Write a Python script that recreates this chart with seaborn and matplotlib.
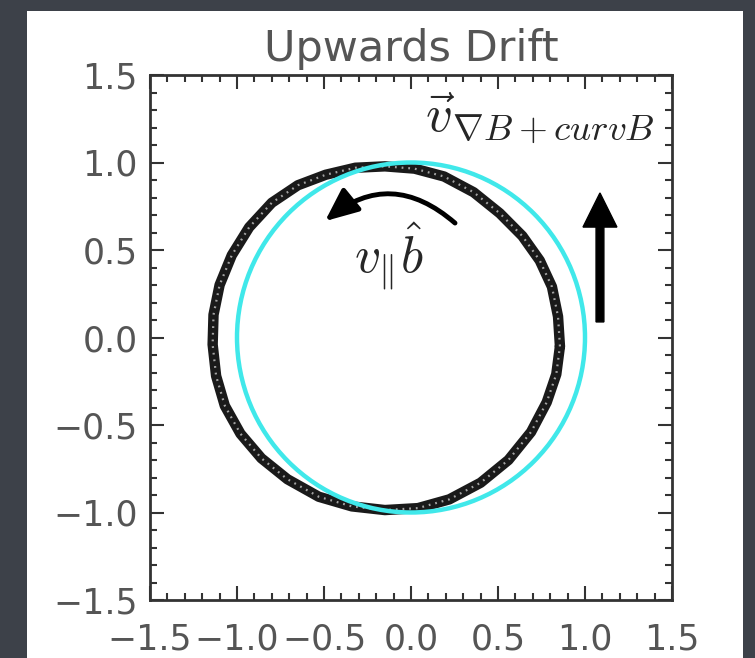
import matplotlib
matplotlib.use("Agg")
import matplotlib.pyplot as plt
from matplotlib.patches import Rectangle, Circle
import pandas as pd
import seaborn as sns

# orbit (counter-clockwise from the right side)
orbit_x = [0.856, 0.845, 0.81, 0.74, 0.64, 0.51, 0.36, 0.19, 0.02, -0.15, -0.32, -0.49,
           -0.65, -0.80, -0.93, -1.03, -1.10, -1.135, -1.14, -1.12, -1.07, -0.98, -0.86,
           -0.71, -0.53, -0.34, -0.15, 0.04, 0.22, 0.40, 0.56, 0.69, 0.78, 0.835, 0.856]
orbit_y = [-0.05, 0.12, 0.29, 0.44, 0.58, 0.71, 0.83, 0.92, 0.965, 0.978, 0.97, 0.93,
           0.87, 0.77, 0.63, 0.47, 0.30, 0.13, -0.04, -0.22, -0.39, -0.55, -0.69,
           -0.81, -0.91, -0.965, -0.986, -0.975, -0.925, -0.83, -0.70, -0.54, -0.37, -0.21, -0.05]

# guiding centre circle
circle_center = (0.0, 0.0)
circle_radius = 1.0

tick_values = [-1.5, -1.0, -0.5, 0.0, 0.5, 1.0, 1.5]
tick_labels = [f"{v:.1f}".replace("-", "\u2212") for v in tick_values]

title = "Upwards Drift"
drift_label = r"$\vec{v}_{\nabla B+curvB}$"
parallel_label = r"$v_{\Vert}\hat{b}$"

orbit = pd.DataFrame({"x": orbit_x, "y": orbit_y})

sns.set_style("ticks")
plt.rcParams["mathtext.fontset"] = "cm"
plt.rcParams["font.family"] = ["DejaVu Sans"]

fig = plt.figure(figsize=(7.55, 6.58), dpi=100)
fig.patch.set_facecolor("#3d4149")
fig.add_artist(Rectangle((27 / 755, 0), 716 / 755, 647 / 658, transform=fig.transFigure,
                         facecolor="white", edgecolor="none", zorder=0))
ax = fig.add_axes([150 / 755, 58 / 658, 522 / 755, 525 / 658])
ax.set_facecolor("white")

# particle orbit as a dark speckled band
sns.lineplot(data=orbit, x="x", y="y", sort=False, estimator=None, ax=ax,
             color="#1a1a1a", lw=7.5, solid_joinstyle="round", solid_capstyle="round")
ax.plot(orbit_x, orbit_y, color="white", lw=1.6, ls=(0, (0.8, 2.2)), alpha=0.6)

ax.add_patch(Circle(circle_center, circle_radius, fill=False, edgecolor="#40e8ea", lw=3.2, zorder=5))

# v_parallel arrow (curved) and drift arrow (straight)
ax.annotate("", xy=(-0.494, 0.665), xytext=(0.253, 0.654),
            arrowprops=dict(arrowstyle="-|>,head_length=0.8,head_width=0.35",
                            connectionstyle="arc3,rad=0.42", lw=3.5, color="black",
                            mutation_scale=25, shrinkA=0, shrinkB=0), zorder=6)
ax.arrow(1.086, 0.089, 0, 0.737, width=0.045, head_width=0.195, head_length=0.195,
         length_includes_head=True, color="black", zorder=6)

ax.text(0.08, 1.175, drift_label, fontsize=38, ha="left", va="baseline", zorder=7)
ax.text(-0.33, 0.369, parallel_label, fontsize=37, ha="left", va="baseline", zorder=7)

ax.set_xlim(-1.5, 1.5)
ax.set_ylim(-1.5, 1.5)
ax.set_xticks(tick_values)
ax.set_yticks(tick_values)
ax.set_xticklabels(tick_labels)
ax.set_yticklabels(tick_labels)
ax.set_xticks([v / 10 for v in range(-15, 16)], minor=True)
ax.set_yticks([v / 10 for v in range(-15, 16)], minor=True)
ax.set_xlabel("")
ax.set_ylabel("")
ax.tick_params(which="both", direction="in", top=True, right=True, color="#333333", width=1.5)
ax.tick_params(which="major", length=10, labelsize=25, labelcolor="#555555")
ax.tick_params(which="minor", length=5)
ax.tick_params(axis="x", pad=16)
ax.tick_params(axis="y", pad=9)
for s in ax.spines.values():
    s.set_visible(True)
    s.set_color("#333333")
    s.set_linewidth(2)

ax.set_title(title, fontsize=31, color="#555555", pad=10)

fig.savefig("out.png", dpi=100, facecolor=fig.get_facecolor())
